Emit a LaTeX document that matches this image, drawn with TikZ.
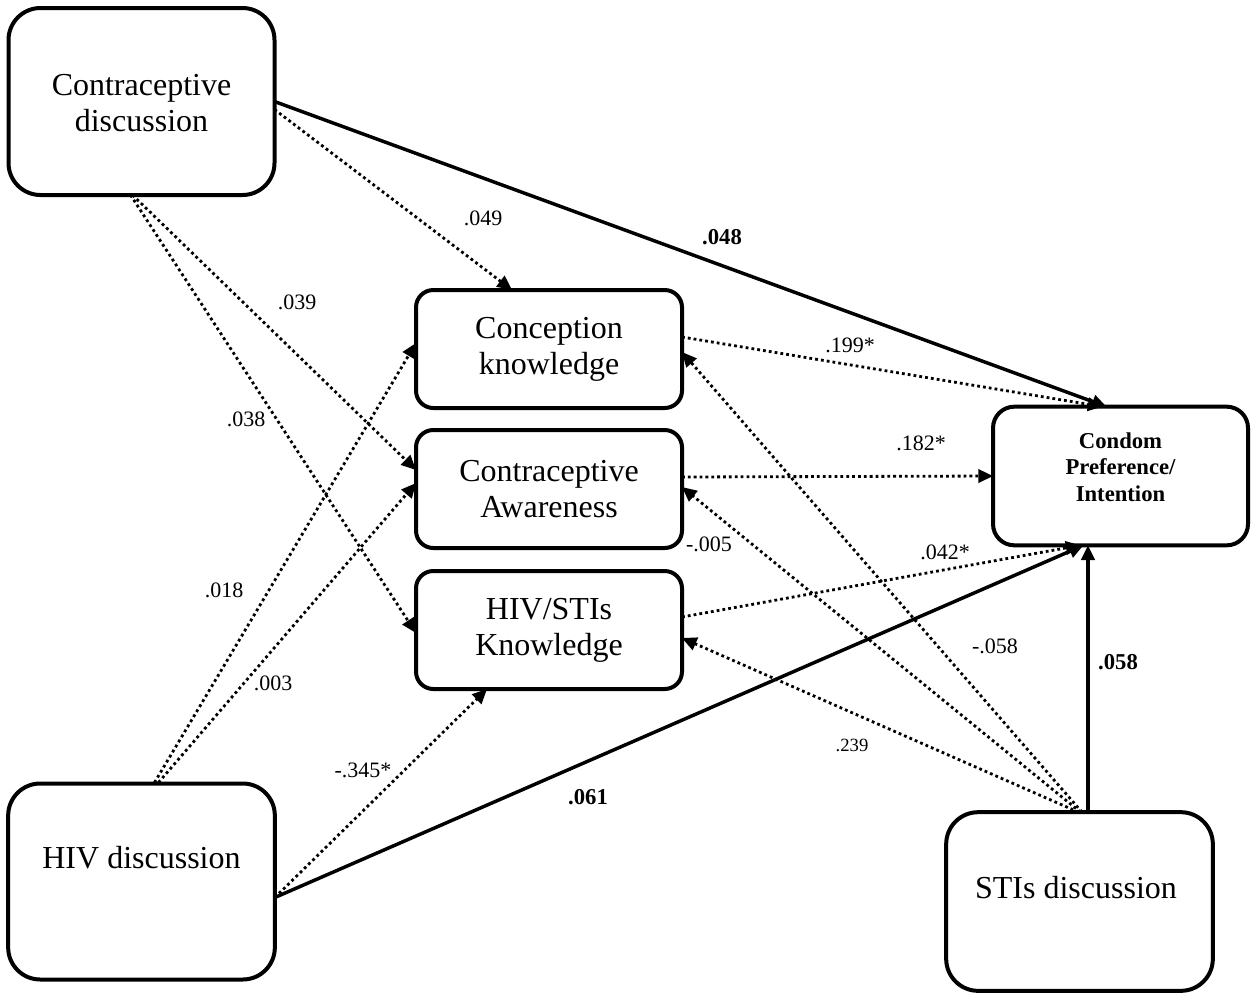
\documentclass[tikz,border=0pt]{standalone}
\usepackage{fontspec}
\setmainfont{Liberation Serif}
\usetikzlibrary{arrows.meta,calc}
\begin{document}
\begin{tikzpicture}[x=0.75pt,y=-0.75pt,
  bigbox/.style={draw, line width=3pt, rounded corners=24pt, inner sep=0pt, outer sep=0pt,
    minimum width=200pt, minimum height=140pt},
  midbox/.style={draw, line width=3pt, rounded corners=13pt, inner sep=0pt, outer sep=0pt,
    minimum width=199.5pt, minimum height=88.5pt, align=center,
    font=\fontsize{24}{27}\selectfont},
  outbox/.style={draw, line width=3pt, rounded corners=16pt, inner sep=0pt, outer sep=0pt,
    minimum width=191.25pt, minimum height=104pt, align=center,
    font=\bfseries\fontsize{17}{20}\selectfont},
  boxtext/.style={align=center, inner sep=0pt, font=\fontsize{24}{27}\selectfont},
  coef/.style={inner sep=1pt, font=\fontsize{16.5}{18}\selectfont},
  coefb/.style={inner sep=1pt, font=\bfseries\fontsize{17}{19}\selectfont},
  tip/.style={-{Triangle[length=11pt,width=10pt]}},
  dotline/.style={tip, line width=2.1pt, dash pattern=on 2.1pt off 2.3pt},
  solidline/.style={tip, line width=2.6pt}]
\useasboundingbox (0,0) rectangle (1259,993);

% boxes
\node[bigbox, minimum width=199.5pt, minimum height=140.25pt] (cd) at (141.5,101.5) {};
\node[boxtext] (cdt) at (141.5,103) {Contraceptive\\discussion};
\node[bigbox, minimum width=200pt, minimum height=147pt] (hd) at (141.5,881.5) {};
\node[boxtext] (hdt) at (141.5,858) {HIV discussion};
\node[bigbox, minimum width=200pt, minimum height=134pt] (sd) at (1079.5,901.5) {};
\node[boxtext] (sdt) at (1076,888) {STIs discussion};

\node[midbox] (ck) at (549,349) {Conception\\knowledge};
\node[midbox] (ca) at (549,489) {Contraceptive\\Awareness};
\node[midbox] (hk) at (549,630) {HIV/STIs\\Knowledge};

\node[outbox] (cp) at (1120.5,476) {};
\node[align=center, inner sep=0pt, font=\bfseries\fontsize{17}{20}\selectfont] (cpt) at (1120.5,467) {Condom\\Preference/\\Intention};

% connectors from Contraceptive discussion
\draw[solidline] (cd.east) -- ([shift={(-14,0)}]cp.north);
\draw[dotline] ([shift={(0,8)}]cd.east) -- ([shift={(-37,0)}]ck.north);
\draw[dotline] ([shift={(-9,0)}]cd.south) -- ([shift={(0,-19)}]ca.west);
\draw[dotline] ([shift={(-11,0)}]cd.south) -- ([shift={(0,3)}]hk.west);

% connectors from HIV discussion
\draw[dotline] ([shift={(13,-1)}]hd.north) -- ([shift={(0,-6)}]ck.west);
\draw[dotline] ([shift={(17,-1)}]hd.north) -- ([shift={(0,-6)}]ca.west);
\draw[dotline] ([shift={(0,16)}]hd.east) -- ([shift={(-62,0)}]hk.south);
\draw[solidline] ([shift={(0,16)}]hd.east) -- ([shift={(-37,0)}]cp.south);

% connectors from middle boxes to outcome
\draw[dotline] ([shift={(0,-12)}]ck.east) -- ([shift={(-18,0)}]cp.north);
\draw[dotline] ([shift={(0,-12)}]ca.east) -- (cp.west);
\draw[dotline] ([shift={(0,-13)}]hk.east) -- ([shift={(-40,0)}]cp.south);

% connectors from STIs discussion
\draw[solidline] ([shift={(8.5,0)}]sd.north) -- ([shift={(-32.5,0)}]cp.south);
\draw[dotline] ([shift={(2.5,0)}]sd.north) -- ([shift={(0,3)}]ck.east);
\draw[dotline] ([shift={(1,0)}]sd.north) -- ([shift={(0,-2)}]ca.east);
\draw[dotline] ([shift={(-1,0)}]sd.north) -- ([shift={(0,8)}]hk.east);

% coefficients
\node[coef] (l1) at (483,218) {.049};
\node[coefb] (l2) at (722,237) {.048};
\node[coef] (l3) at (297,302) {.039};
\node[coef] (l4) at (246,419) {.038};
\node[coef] (l5) at (850,345) {.199*};
\node[coef] (l6) at (921,443) {.182*};
\node[coef] (l7) at (224,590) {.018};
\node[coef] (l8) at (709,544) {-.005};
\node[coef] (l9) at (945,552) {.042*};
\node[coef] (l10) at (995,646) {-.058};
\node[coefb] (l11) at (1118,662) {.058};
\node[coef] (l12) at (273,683) {.003};
\node[coef, font=\fontsize{14}{15}\selectfont] (l13) at (852,745) {.239};
\node[coef] (l14) at (363,770) {-.345*};
\node[coefb] (l15) at (588,797) {.061};
\end{tikzpicture}
\end{document}
